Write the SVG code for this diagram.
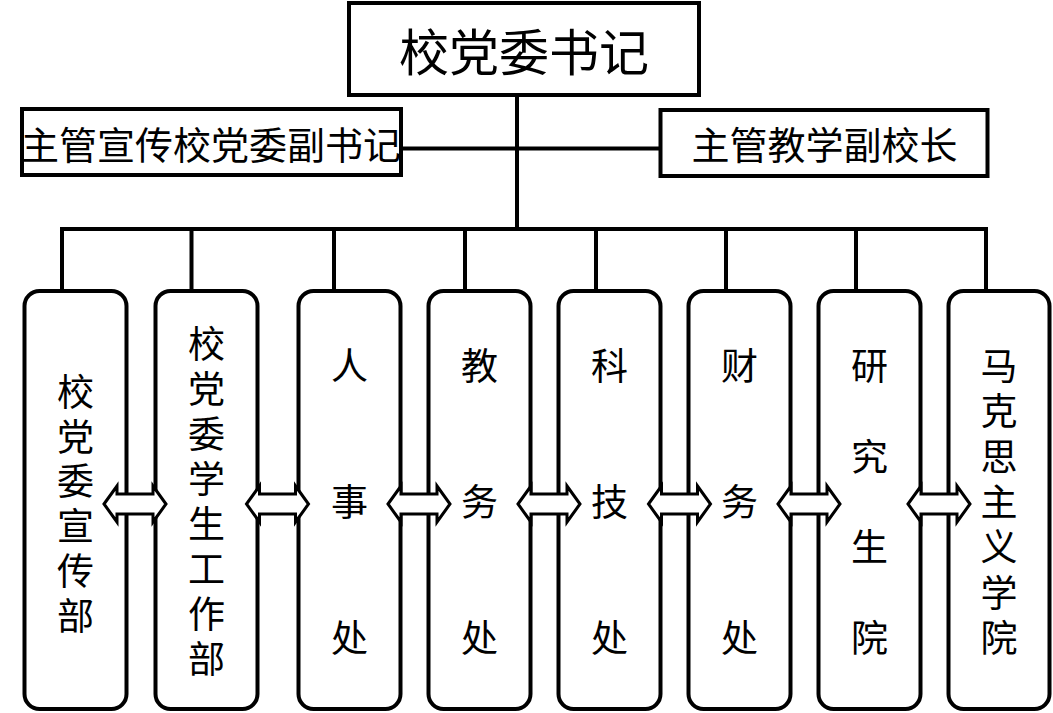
<svg xmlns="http://www.w3.org/2000/svg" width="1053" height="713" viewBox="0 0 1053 713">
<style>
.box{fill:#fff;stroke:#000;stroke-width:4}
.unit{fill:#fff;stroke:#000;stroke-width:4}
.ln{fill:none;stroke:#000;stroke-width:4;stroke-linecap:square}
.arr{fill:#fff;stroke:#000;stroke-width:3;stroke-linejoin:miter}
text{font-family:"Noto Sans CJK SC","Noto Sans",sans-serif;fill:#000}
.h{text-anchor:middle;dominant-baseline:central}
.v{writing-mode:vertical-rl;text-anchor:start;font-size:37px}
.t50{font-size:50px}
.t38{font-size:38px}
</style>
<defs>
<path id="dbl" d="M-31,0 L-18,-18 L-18,-10 L18,-10 L18,-18 L31,0 L18,18 L18,10 L-18,10 L-18,18 Z"/>
</defs>
<g id="connectors">
<path class="ln" d="M517,95 V229"/>
<path class="ln" d="M401,148.5 H660"/>
<path class="ln" d="M62,229 H986"/>
<path class="ln" d="M62,229 V291 M191.5,229 V291 M334,229 V291 M465,229 V291 M596,229 V291 M726,229 V291 M856,229 V291 M986,229 V291"/>
</g>
<g id="n-top">
<rect class="box" x="349" y="3" width="350" height="92"/>
<text class="h t50" x="524" y="49">校党委书记</text>
</g>
<g id="n-left">
<rect class="box" x="22" y="109" width="379" height="66"/>
<text class="h t38" x="211" y="142">主管宣传校党委副书记</text>
</g>
<g id="n-right">
<rect class="box" x="660.5" y="110" width="327" height="66"/>
<text class="h t38" x="824.5" y="142">主管教学副校长</text>
</g>
<g id="u1">
<rect class="unit" x="24.5" y="291" width="102" height="418" rx="15"/>
<text class="v"><tspan x="75.5" y="373.2">校</tspan><tspan x="75.5" y="418">党</tspan><tspan x="75.5" y="462.8">委</tspan><tspan x="75.5" y="507.6">宣</tspan><tspan x="75.5" y="552.4">传</tspan><tspan x="75.5" y="597.2">部</tspan></text>
</g>
<g id="u2">
<rect class="unit" x="155.5" y="291" width="102" height="418" rx="15"/>
<text class="v"><tspan x="206.5" y="325.5">校</tspan><tspan x="206.5" y="370.5">党</tspan><tspan x="206.5" y="415.5">委</tspan><tspan x="206.5" y="460.5">学</tspan><tspan x="206.5" y="505.5">生</tspan><tspan x="206.5" y="550.5">工</tspan><tspan x="206.5" y="595.5">作</tspan><tspan x="206.5" y="640.5">部</tspan></text>
</g>
<g id="u3">
<rect class="unit" x="298.5" y="291" width="102" height="418" rx="15"/>
<text class="v"><tspan x="349.5" y="347.5">人</tspan><tspan x="349.5" y="483.5">事</tspan><tspan x="349.5" y="619">处</tspan></text>
</g>
<g id="u4">
<rect class="unit" x="428.5" y="291" width="102" height="418" rx="15"/>
<text class="v"><tspan x="479.5" y="347.5">教</tspan><tspan x="479.5" y="483.5">务</tspan><tspan x="479.5" y="619">处</tspan></text>
</g>
<g id="u5">
<rect class="unit" x="558.5" y="291" width="102" height="418" rx="15"/>
<text class="v"><tspan x="609.5" y="347.5">科</tspan><tspan x="609.5" y="483.5">技</tspan><tspan x="609.5" y="619">处</tspan></text>
</g>
<g id="u6">
<rect class="unit" x="688.5" y="291" width="102" height="418" rx="15"/>
<text class="v"><tspan x="739.5" y="347.5">财</tspan><tspan x="739.5" y="483.5">务</tspan><tspan x="739.5" y="619">处</tspan></text>
</g>
<g id="u7">
<rect class="unit" x="818.5" y="291" width="102" height="418" rx="15"/>
<text class="v"><tspan x="869.5" y="347.5">研</tspan><tspan x="869.5" y="438">究</tspan><tspan x="869.5" y="528.5">生</tspan><tspan x="869.5" y="619">院</tspan></text>
</g>
<g id="u8">
<rect class="unit" x="948.5" y="291" width="101" height="418" rx="15"/>
<text class="v"><tspan x="999" y="347.5">马</tspan><tspan x="999" y="392.8">克</tspan><tspan x="999" y="438.1">思</tspan><tspan x="999" y="483.4">主</tspan><tspan x="999" y="528.7">义</tspan><tspan x="999" y="574">学</tspan><tspan x="999" y="619.3">院</tspan></text>
</g>
<g id="arrows">
<use href="#dbl" class="arr" transform="translate(135,504)"/>
<use href="#dbl" class="arr" transform="translate(277.5,504)"/>
<use href="#dbl" class="arr" transform="translate(419,504)"/>
<use href="#dbl" class="arr" transform="translate(549,504)"/>
<use href="#dbl" class="arr" transform="translate(679.5,504)"/>
<use href="#dbl" class="arr" transform="translate(809,504)"/>
<use href="#dbl" class="arr" transform="translate(939,504)"/>
</g>
</svg>
